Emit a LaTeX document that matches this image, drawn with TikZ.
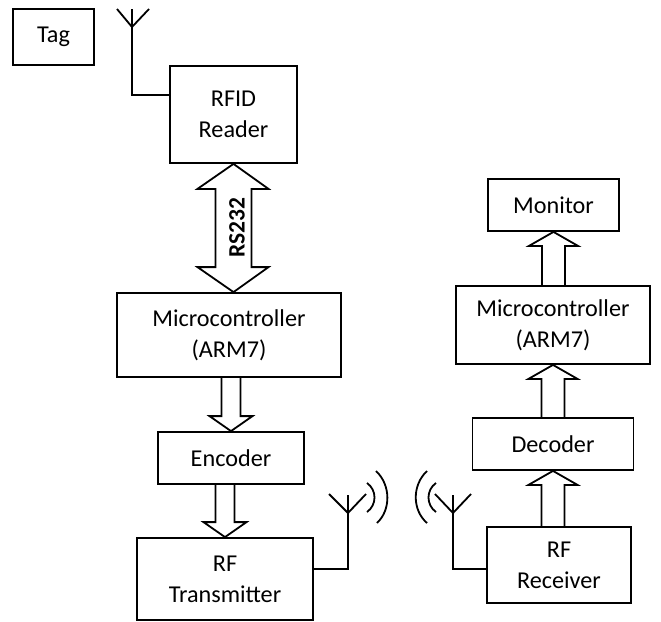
\documentclass[tikz,border=0pt]{standalone}
\usepackage{fontspec}
\setmainfont{Carlito}
\usetikzlibrary{calc}

\tikzset{
  blockbox/.style={draw, line width=1.8pt, inner sep=0pt, align=center,
    font=\fontsize{24.2}{31}\selectfont},
  wire/.style={line width=1.8pt},
  blk/.style={line width=1.8pt, line join=miter},
}

% Hollow block arrow from #1 (open tail) to #2 (tip);
% #3 = half shaft width, #4 = half head width, #5 = head length
\newcommand{\hollowarrow}[5]{%
  \draw[blk] let \p1=(#1), \p2=(#2), \n1={ifthenelse(\y1>\y2,1,-1)} in
    (\x2-#3pt,\y1) -- (\x2-#3pt,\y2+\n1*#5pt) -- (\x2-#4pt,\y2+\n1*#5pt)
    -- (\x2,\y2) -- (\x2+#4pt,\y2+\n1*#5pt) -- (\x2+#3pt,\y2+\n1*#5pt)
    -- (\x2+#3pt,\y1);}

\begin{document}
\begin{tikzpicture}[x=1pt, y=-1pt]
\useasboundingbox (0,0) rectangle (661,621);

% transmitting side
\node[blockbox, minimum width=81,  minimum height=56] (tag)  at (53.5,37)   {Tag};
\node[blockbox, minimum width=127, minimum height=97] (rfid) at (233.5,114.5) {RFID\\Reader};
\node[blockbox, minimum width=224, minimum height=84] (micL) at (229,335)   {Microcontroller\\(ARM7)};
\node[blockbox, minimum width=146, minimum height=52] (enc)  at (231,458)   {Encoder};
\node[blockbox, minimum width=176, minimum height=82] (tx)   at (225,579)   {RF\\Transmitter};

% receiving side
\node[blockbox, minimum width=131, minimum height=52] (mon)  at (553.5,205) {Monitor};
\node[blockbox, minimum width=194, minimum height=78] (micR) at (553,325)   {Microcontroller\\(ARM7)};
\node[blockbox, minimum width=161, minimum height=52] (dec)  at (553,444)   {Decoder};
\node[blockbox, minimum width=144, minimum height=76] (rx)   at (559,565)   {RF\\Receiver};

% RS232 double block arrow between reader and controller
\draw[blk] let \p1=(rfid.south), \p2=(micL.north) in
  (\x1,\y1) -- (\x1+35pt,\y1-25pt) -- (\x1+18pt,\y1-25pt)
  -- (\x1+18pt,\y2+25pt) -- (\x1+35pt,\y2+25pt) -- (\x1,\y2)
  -- (\x1-36pt,\y2+25pt) -- (\x1-18pt,\y2+25pt)
  -- (\x1-18pt,\y1-25pt) -- (\x1-36pt,\y1-25pt) -- cycle;
\node[rotate=90, font=\fontsize{23.5}{28}\selectfont\bfseries] (rs) at (237,228) {RS232};

% data flow arrows
\hollowarrow{micL.south}{enc.north}{9.5}{21.5}{15}
\hollowarrow{enc.south}{tx.north}{9.5}{21.5}{15}
\hollowarrow{rx.north}{dec.south}{11.5}{24.5}{14}
\hollowarrow{dec.north}{micR.south}{11.5}{24.5}{14}
\hollowarrow{micR.north}{mon.south}{11.5}{24.5}{14}

% reader antenna
\coordinate (a1) at (132,95);
\draw[wire] (132,9) -- (a1) -- (a1 -| rfid.west);
\draw[wire] (117,9) -- (132,27) -- (149,9);

% transmitter antenna and waves
\coordinate (a2) at (348,569);
\draw[wire] (348,495) -- (a2) -- (a2 -| tx.east);
\draw[wire] (329,494) -- (348,513) -- (366,494);
\draw[wire] (367,483) .. controls (377,490) and (377,505) .. (367,512);
\draw[wire] (376,471) .. controls (391,485) and (391,510) .. (377,523);

% receiver antenna and waves
\coordinate (a3) at (453,569);
\draw[wire] (453,495) -- (a3) -- (a3 -| rx.west);
\draw[wire] (435,494) -- (453,513) -- (471,494);
\draw[wire] (436,483) .. controls (426,490) and (426,505) .. (436,512);
\draw[wire] (427,471) .. controls (412,485) and (412,510) .. (427,523);
\end{tikzpicture}
\end{document}
